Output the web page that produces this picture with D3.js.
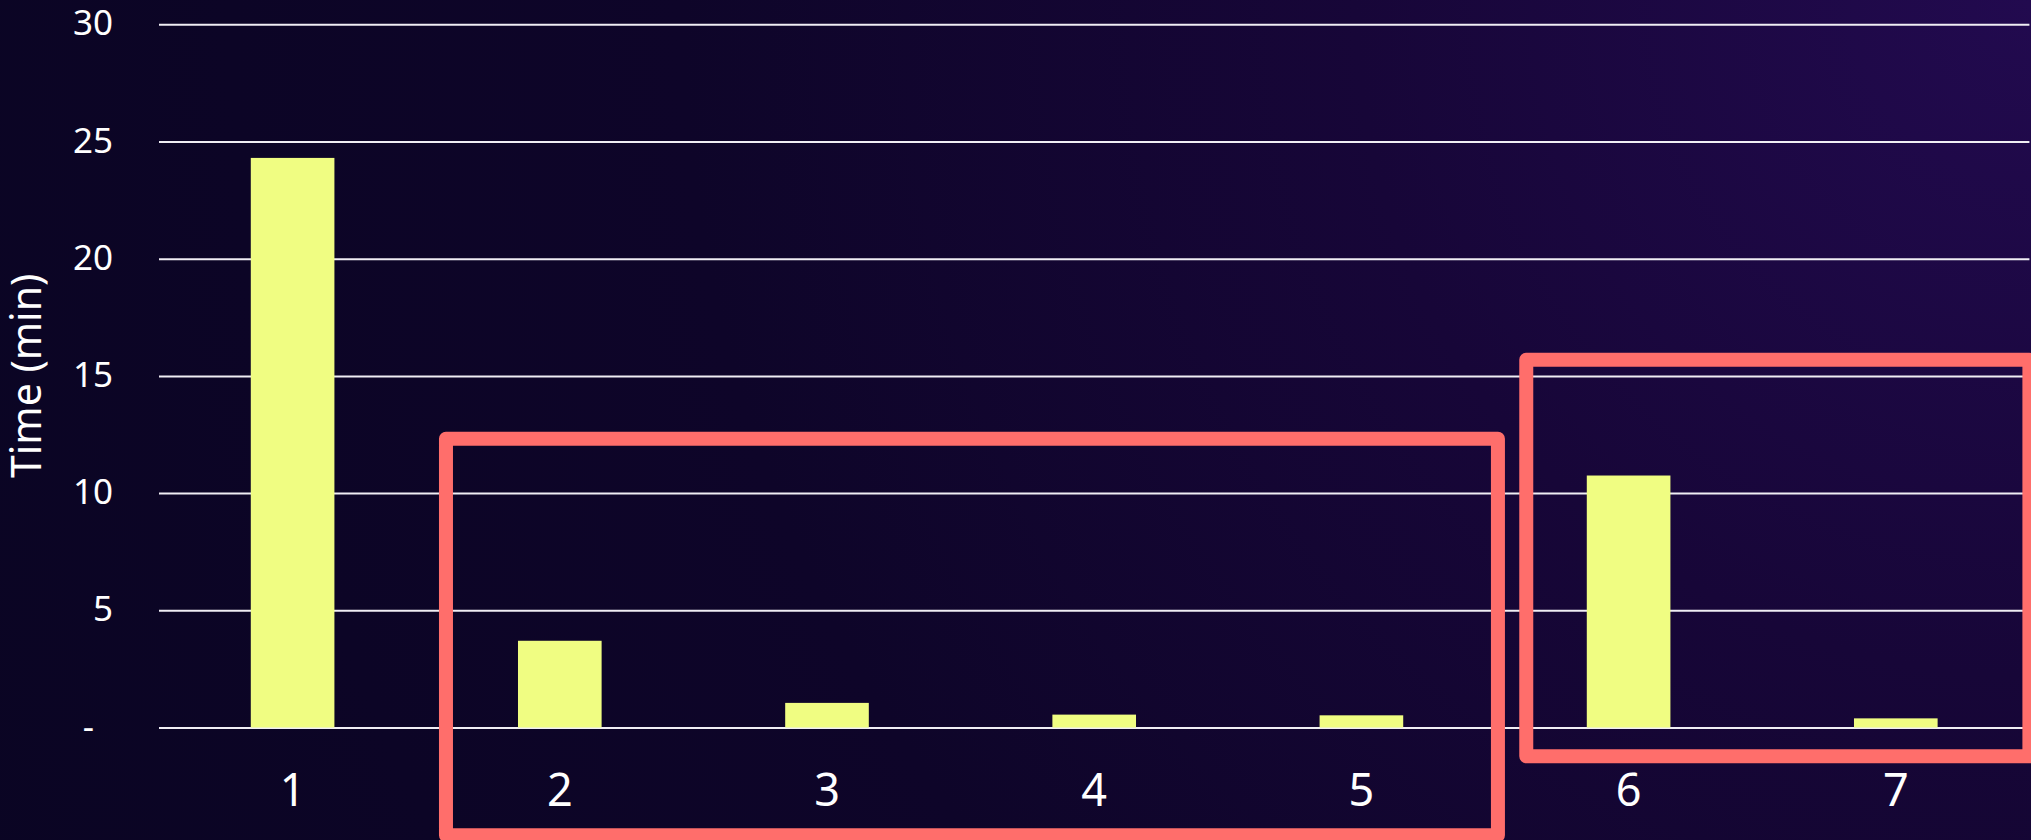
<!DOCTYPE html>
<html>
<head>
<meta charset="utf-8">
<script src="https://cdn.jsdelivr.net/npm/d3@7"></script>
<style>
  html, body { margin: 0; padding: 0; background: #0a0524; }
  svg { display: block; }
  text { font-family: "Noto Sans", "Open Sans", sans-serif; fill: #ffffff; }
</style>
</head>
<body>
<svg id="chart" width="2031" height="840"></svg>
<script>
// Run number on the x axis, time taken on the y axis
const categories = ["1", "2", "3", "4", "5", "6", "7"];
const timeMinutes = [24.3, 3.7, 1.05, 0.55, 0.52, 10.75, 0.39];

const yTicks = [0, 5, 10, 15, 20, 25, 30];
const yTickLabels = ["-", "5", "10", "15", "20", "25", "30"];
const yTitle = "Time (min)";

// Outlined groups of runs: first and last run, top value, bottom value
const highlightFrom = ["2", "6"];
const highlightTo = ["5", "7"];
const highlightTop = [12.32, 15.69];
const highlightBottom = [-4.6, -1.23];

const W = 2031, H = 840;
const svg = d3.select("#chart");

// Background: dark navy glowing towards purple in the upper right
const defs = svg.append("defs");
const grad = defs.append("radialGradient")
  .attr("id", "bg")
  .attr("gradientUnits", "userSpaceOnUse")
  .attr("cx", W).attr("cy", 0).attr("r", 2250);
grad.append("stop").attr("offset", 0).attr("stop-color", "#220a4f");
grad.append("stop").attr("offset", 0.3).attr("stop-color", "#170638");
grad.append("stop").attr("offset", 0.6).attr("stop-color", "#0e0529");
grad.append("stop").attr("offset", 1).attr("stop-color", "#0a0523");
svg.append("rect").attr("width", W).attr("height", H).attr("fill", "url(#bg)");

const x = d3.scaleBand()
  .domain(categories)
  .range([159, 2029.4])
  .paddingInner(0.687)
  .paddingOuter(0.3435);

const y = d3.scaleLinear()
  .domain([0, 30])
  .range([727.5, 24.3]);

// Gridlines and y tick labels
const yAxis = d3.axisLeft(y)
  .tickValues(yTicks)
  .tickFormat((d, i) => yTickLabels[i])
  .tickSize(-(x.range()[1] - x.range()[0]))
  .tickPadding(46);

const gy = svg.append("g")
  .attr("transform", `translate(${x.range()[0]},0)`)
  .call(yAxis);
gy.select(".domain").remove();
gy.selectAll(".tick line")
  .attr("stroke", "#f0eef4")
  .attr("stroke-width", 2);
gy.selectAll(".tick text")
  .attr("fill", "#ffffff")
  .attr("font-size", 35)
  .attr("font-family", "'Noto Sans', sans-serif")
  .attr("dy", "0.3em")
  .attr("dx", d => d === 0 ? -19 : 0);

// Bars
svg.append("g").selectAll("rect")
  .data(categories)
  .join("rect")
  .attr("x", d => x(d))
  .attr("width", x.bandwidth())
  .attr("y", (d, i) => y(timeMinutes[i]))
  .attr("height", (d, i) => y(0) - y(timeMinutes[i]))
  .attr("fill", "#f0fd82");

// Category labels
svg.append("g").selectAll("text")
  .data(categories)
  .join("text")
  .attr("x", d => x(d) + x.bandwidth() / 2)
  .attr("y", 806)
  .attr("text-anchor", "middle")
  .attr("font-size", 45)
  .text(d => d);

// Y axis title
svg.append("text")
  .attr("transform", `translate(41,${(y(0) + y(30)) / 2}) rotate(-90)`)
  .attr("text-anchor", "middle")
  .attr("font-size", 41)
  .text(yTitle);

// Highlight outlines around groups of runs
const step = x.step();
const boxLeftPad = [0.074 * step, 0.117 * step];
const boxRightPad = [0.011 * step, 0];
svg.append("g").selectAll("rect")
  .data(highlightFrom)
  .join("rect")
  .attr("x", (d, i) => x(d) - x.paddingInner() * step / 2 + boxLeftPad[i])
  .attr("y", (d, i) => y(highlightTop[i]))
  .attr("width", (d, i) => {
    const left = x(d) - x.paddingInner() * step / 2 + boxLeftPad[i];
    const right = x(highlightTo[i]) + x.bandwidth() + x.paddingInner() * step / 2 + boxRightPad[i];
    return right - left;
  })
  .attr("height", (d, i) => y(highlightBottom[i]) - y(highlightTop[i]))
  .attr("fill", "none")
  .attr("stroke", "#ff6e6b")
  .attr("stroke-width", 14)
  .attr("stroke-linejoin", "round");
</script>
</body>
</html>
